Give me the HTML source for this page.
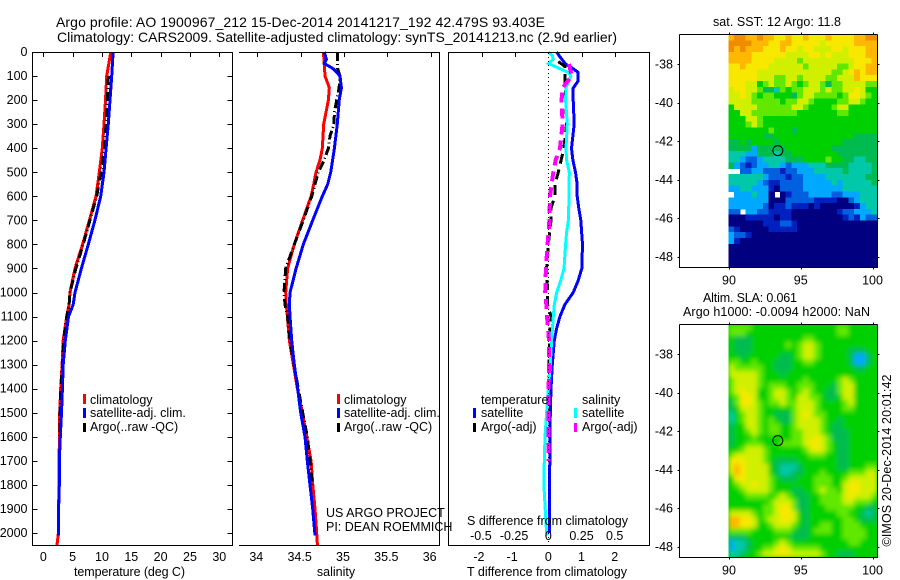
<!DOCTYPE html>
<html lang="en">
<head>
<meta charset="utf-8">
<title>Argo profile 1900967_212</title>
<style>
html,body{margin:0;padding:0;background:#fff;width:900px;height:580px;overflow:hidden}
svg{display:block}
text{font-family:"Liberation Sans",Arial,sans-serif;font-size:12.5px;fill:#000}
.t{font-size:14px}
</style>
</head>
<body>
<svg id="fig" xmlns="http://www.w3.org/2000/svg" width="900" height="580" viewBox="0 0 900 580">
  <defs>
    <filter id="smooth" filterUnits="userSpaceOnUse" x="728" y="324" width="150" height="234">
      <feGaussianBlur stdDeviation="2.4" edgeMode="duplicate"/>
    </filter>
    <clipPath id="slaClip"><rect x="728.5" y="324.5" width="149" height="233"/></clipPath>
  </defs>
  <rect width="900" height="580" fill="#fff"/>
  <g id="heat" shape-rendering="crispEdges"></g>
  <g clip-path="url(#slaClip)">
    <rect x="728.5" y="324.5" width="149" height="233" fill="#00d000"/>
    <g id="heatSla" shape-rendering="crispEdges" filter="url(#smooth)"></g>
  </g>
  <g id="marks" shape-rendering="crispEdges"></g>
  <g id="axes" shape-rendering="crispEdges"></g>
  <g id="labels"></g>

  <text class="t" x="56" y="27" textLength="489">Argo profile: AO 1900967_212 15-Dec-2014 20141217_192 42.479S 93.403E</text>
  <text class="t" x="57" y="42" textLength="560">Climatology: CARS2009. Satellite-adjusted climatology: synTS_20141213.nc (2.9d earlier)</text>

  <text x="74" y="576" textLength="111">temperature (deg C)</text>
  <text x="336" y="576" text-anchor="middle">salinity</text>
  <text x="467" y="576" textLength="160">T difference from climatology</text>
  <text x="467" y="525" textLength="161">S difference from climatology</text>

  <g shape-rendering="crispEdges">
    <rect x="83" y="394" width="3" height="10" fill="#f00"/>
    <rect x="83" y="408" width="3" height="10" fill="#00f"/>
    <rect x="83" y="423" width="3" height="9" fill="#000"/>
  </g>
  <text x="90" y="404">climatology</text>
  <text x="90" y="417">satellite-adj. clim.</text>
  <text x="90" y="431">Argo(..raw -QC)</text>

  <g shape-rendering="crispEdges">
    <rect x="337" y="394" width="3" height="10" fill="#f00"/>
    <rect x="337" y="408" width="3" height="10" fill="#00f"/>
    <rect x="337" y="423" width="3" height="9" fill="#000"/>
  </g>
  <text x="344" y="404">climatology</text>
  <text x="344" y="417">satellite-adj. clim.</text>
  <text x="344" y="431">Argo(..raw -QC)</text>

  <text x="326" y="517">US ARGO PROJECT</text>
  <text x="326" y="531">PI: DEAN ROEMMICH</text>

  <g shape-rendering="crispEdges">
    <rect x="473" y="408" width="3" height="10" fill="#00f"/>
    <rect x="473" y="423" width="3" height="9" fill="#000"/>
    <rect x="574" y="408" width="3" height="10" fill="#0ff"/>
    <rect x="574" y="423" width="3" height="9" fill="#f0f"/>
  </g>
  <text x="481" y="404">temperature</text>
  <text x="481" y="417">satellite</text>
  <text x="481" y="431">Argo(-adj)</text>
  <text x="582" y="404">salinity</text>
  <text x="582" y="417">satellite</text>
  <text x="582" y="431">Argo(-adj)</text>

  <text x="713" y="26" textLength="128">sat. SST: 12 Argo: 11.8</text>
  <text x="703" y="302" textLength="94">Altim. SLA: 0.061</text>
  <text x="683" y="316" textLength="187">Argo h1000: -0.0094 h2000: NaN</text>
  <text transform="translate(891,546.5) rotate(-90)" textLength="172">©IMOS 20-Dec-2014 20:01:42</text>
</svg>
<script>
/* ---------- axis tick data ---------- */
var depthTicks = [0,100,200,300,400,500,600,700,800,900,1000,1100,1200,1300,1400,1500,1600,1700,1800,1900,2000];
var tempTicks = [0,5,10,15,20,25,30];
var salTicks = [34,34.5,35,35.5,36];
var salTickLabels = ['34','34.5','35','35.5','36'];
var tDiffTicks = [-2,-1,0,1,2];
var sDiffTicks = [-0.5,-0.25,0,0.25,0.5];
var lonTicks = [90,95,100];
var latTicks = [-38,-40,-42,-44,-46,-48];

/* ---------- argo position ---------- */
var argoLon = 93.403;
var argoLat = -42.479;

/* ---------- temperature panel ---------- */
var tempClimDepth = [0,100,200,300,400,500,600,700,800,900,1000,1050,1100,1200,1300,1400,1500,1600,1700,1800,1900,2000,2050];
var tempClimValue = [11.5,10.8,10.6,10.35,10.06,9.55,8.98,7.85,6.7,5.4,4.55,4.4,3.98,3.4,3.2,2.96,2.8,2.75,2.7,2.68,2.6,2.58,2.33];
var tempSatDepth = [0,100,200,300,400,500,600,700,800,900,1000,1050,1100,1200,1300,1400,1500,1600,1700,1800,1900,2010];
var tempSatValue = [11.9,11.65,11.37,11.08,10.7,10.35,9.78,8.8,7.67,6.5,5.4,5.1,4.3,3.75,3.4,3.25,3.1,2.9,2.73,2.73,2.6,2.6];
var tempArgoDepth = [100,200,300,400,500,600,700,800,900,1000,1050,1100,1200,1300,1400,1500,1600];
var tempArgoValue = [11.1,10.9,10.7,10.4,9.85,9.1,7.95,6.8,5.55,4.55,4.4,3.98,3.45,3.25,3.0,2.85,2.8];

/* ---------- salinity panel ---------- */
var salClimDepth = [0,50,100,130,150,200,300,400,450,500,550,600,700,800,900,1000,1050,1100,1200,1300,1400,1500,1600,1700,1800,1900,2000,2050];
var salClimValue = [34.762,34.773,34.781,34.812,34.831,34.82,34.766,34.75,34.723,34.677,34.65,34.62,34.523,34.427,34.35,34.327,34.335,34.347,34.37,34.416,34.462,34.52,34.57,34.62,34.64,34.666,34.685,34.693];
var salSatDepth = [0,30,48,70,100,150,200,300,400,500,550,600,700,800,900,1000,1050,1100,1200,1300,1400,1500,1600,1700,1800,1900,2010];
var salSatValue = [34.773,34.797,34.773,34.878,34.954,34.97,34.945,34.923,34.889,34.847,34.812,34.75,34.639,34.531,34.447,34.377,34.37,34.377,34.397,34.427,34.466,34.5,34.55,34.577,34.608,34.639,34.666];
var salArgoDepth = [0,50,70,100,150,200,250,300,350,400,450,500,550,600,700,800,900,1000,1050,1100,1200,1300,1400,1500,1600,1700,1800];
var salArgoValue = [34.927,34.927,34.927,34.954,34.943,34.916,34.889,34.885,34.839,34.82,34.77,34.704,34.666,34.627,34.531,34.427,34.327,34.308,34.32,34.35,34.377,34.423,34.473,34.524,34.577,34.608,34.635];

/* ---------- difference panel ---------- */
var tDiffSatDepth = [0,20,50,70,85,120,150,200,300,400,450,500,550,600,650,700,800,900,950,1000,1050,1100,1150,1200,1300,1400,1500,1600,1800,2000];
var tDiffSatValue = [0.25,0.35,0.52,0.75,0.9,0.9,0.75,0.75,0.78,0.7,0.74,0.82,0.87,0.87,0.92,0.98,1.03,1.01,0.9,0.75,0.5,0.35,0.25,0.18,0.12,0.08,0.06,0.05,0.04,0.03];
var sDiffSatDepth = [0,15,30,48,60,85,100,130,150,200,300,400,450,480,500,600,700,750,800,900,950,1000,1050,1100,1200,1300,1400,1500,1600,1700,1800,1900,2000,2010];
var sDiffSatValue = [0,0.03,0.038,0,0.05,0.15,0.17,0.146,0.133,0.13,0.143,0.133,0.138,0.15,0.158,0.156,0.151,0.138,0.13,0.118,0.093,0.063,0.045,0.038,0.025,0.015,0,-0.013,-0.025,-0.03,-0.033,-0.023,-0.013,-0.005];
var tDiffArgoDepth = [40,60,100,300,400,500,550,600,650,700,800,900,1000,1050,1100,1150,1300,1500];
var tDiffArgoValue = [0.3,0.5,0.5,0.55,0.47,0.3,0.2,0.2,0.08,0.08,0,-0.05,-0.02,-0.02,0.08,0.05,0.02,0.01];
var sDiffArgoDepth = [50,100,150,200,300,400,450,500,550,600,700,800,900,1000,1050,1100,1200,1300,1500,1600,1700];
var sDiffArgoValue = [0.156,0.176,0.106,0.1,0.108,0.088,0.055,0.038,0.025,0.013,0.008,-0.005,-0.018,-0.023,-0.015,-0.01,0.005,0.005,0,0,0];

/* ---------- satellite SST levels (colour-scale index, -1 = missing) ---------- */
var sstRows = [
[10,11,11,10,10,11,10,10,9,9,10,9,9,10,9,9,9,10,9,9,9,9,10,10,11,11],
[11,11,11,11,10,10,10,9,9,10,10,9,9,9,9,9,8,9,9,9,9,9,10,10,10,10],
[11,10,11,10,10,10,9,9,9,10,9,9,8,9,9,8,8,8,9,9,8,9,9,9,10,10],
[10,10,10,10,9,9,9,9,9,9,8,8,8,8,9,9,8,9,8,8,8,9,9,9,10,10],
[10,10,10,10,9,9,9,9,8,8,8,8,7,8,8,8,8,8,8,8,8,8,9,9,9,10],
[9,9,10,9,9,9,9,8,8,8,8,8,8,7,8,8,8,8,8,7,7,8,9,9,10,10],
[9,9,9,9,9,8,8,8,8,8,8,8,8,8,8,8,8,8,7,7,8,9,10,9,10,10],
[9,9,9,9,9,8,8,8,7,7,8,8,7,8,8,8,8,7,7,8,8,8,10,9,9,9],
[9,9,9,8,8,6,7,8,7,7,8,7,6,7,8,8,7,5,7,7,8,8,8,8,7,7],
[8,9,9,8,8,7,5,5,4,7,6,7,7,8,8,8,7,8,7,7,8,8,9,8,6,6],
[8,8,9,8,7,6,7,7,6,6,6,5,7,8,8,7,7,7,7,6,7,9,9,8,7,6],
[8,8,8,8,7,7,7,7,7,6,7,7,8,8,7,6,6,6,6,7,7,8,8,7,6,6],
[6,8,8,8,8,7,7,7,7,7,7,8,8,7,6,6,6,6,7,8,8,6,6,6,6,6],
[6,6,8,8,7,7,7,7,7,7,7,7,6,6,6,6,6,6,6,7,7,6,6,6,6,6],
[6,6,6,8,8,7,6,6,6,6,6,6,6,6,6,6,6,6,6,6,6,6,6,6,6,6],
[6,6,6,7,8,7,6,6,6,6,6,6,6,6,6,6,6,6,6,6,6,6,6,6,6,6],
[6,6,6,6,6,6,6,7,6,6,6,5,6,6,6,6,6,6,6,6,6,6,6,6,6,6],
[6,6,6,6,6,6,5,5,6,6,6,6,6,6,6,6,6,6,6,6,6,6,5,5,5,5],
[5,5,6,5,6,6,6,6,5,6,6,6,6,6,6,6,6,6,6,6,5,5,5,5,5,5],
[5,5,5,5,3,5,5,5,5,5,6,6,6,6,6,6,6,6,5,5,5,5,5,5,5,5],
[4,4,4,3,3,5,5,5,4,5,5,6,6,6,6,6,6,6,6,5,5,5,5,5,5,5],
[4,4,3,2,2,3,4,4,4,4,5,5,5,6,6,6,6,7,6,6,5,5,4,4,5,5],
[5,3,2,1,2,3,3,4,4,3,2,3,3,3,4,4,4,5,5,5,5,4,4,4,4,5],
[-1,-1,2,2,3,3,2,2,2,1,2,2,3,3,3,4,4,4,4,4,5,4,4,4,4,5],
[4,4,4,4,4,4,3,2,2,2,1,2,2,3,3,3,3,4,4,4,4,4,4,4,5,5],
[4,4,4,4,4,3,2,1,1,2,2,2,2,3,3,3,3,3,4,3,4,4,4,4,4,5],
[3,3,4,4,3,3,3,1,0,2,2,2,2,3,3,3,3,3,3,3,4,4,4,4,4,4],
[-1,3,3,3,4,3,3,0,-1,0,1,2,2,2,3,3,3,3,2,2,3,3,3,4,4,4],
[3,3,3,3,3,3,3,0,0,0,2,2,2,2,2,1,1,1,1,0,0,2,3,4,4,4],
[3,3,3,3,3,3,2,0,1,1,2,1,1,1,0,1,0,0,0,0,0,0,1,3,4,4],
[2,2,-1,3,3,2,2,1,1,1,1,0,0,0,0,0,0,0,0,1,2,2,3,3,3,4],
[0,0,0,1,1,1,1,1,0,1,1,0,0,0,0,0,0,0,0,0,1,2,1,3,2,2],
[0,0,0,0,0,0,1,1,1,2,2,1,0,0,0,0,0,0,0,0,0,0,0,0,0,0],
[2,1,0,0,0,0,0,1,1,1,1,1,0,0,0,0,0,0,0,0,0,0,0,0,0,0],
[3,2,2,1,0,0,0,0,0,0,0,0,0,0,0,0,0,0,0,0,0,0,0,0,0,0],
[3,1,0,0,0,0,0,0,0,0,0,0,0,0,0,0,0,0,0,0,0,0,0,0,0,0],
[0,0,0,0,0,0,0,0,0,0,0,0,0,0,0,0,0,0,0,0,0,0,0,0,0,0],
[0,0,0,0,0,0,0,0,0,0,0,0,0,0,0,0,0,0,0,0,0,0,0,0,0,0],
[0,0,0,0,0,0,0,0,0,0,0,0,0,0,0,0,0,0,0,0,0,0,0,0,0,0],
[0,0,0,0,0,0,0,0,0,0,0,0,0,0,0,0,0,0,0,0,0,0,0,0,0,0]
];

/* ---------- altimeter SLA levels (colour-scale index) ---------- */
var slaRows = [
[7,7,7,7,6,6,6,6,6,6,6,6,6,6,6,6,6,6,6,7,7,6,6,6,6,6],
[7,7,7,6,6,6,6,6,6,6,6,6,6,6,6,6,6,6,6,7,7,6,6,6,6,6],
[6,5,5,5,6,6,6,6,6,6,6,6,6,7,7,6,6,6,6,6,6,6,6,6,6,6],
[6,5,5,5,6,6,6,6,6,6,7,6,7,8,8,7,6,6,6,6,6,6,6,6,6,6],
[6,5,5,5,6,6,6,6,6,6,6,6,7,8,8,7,6,6,6,6,6,5,5,5,6,6],
[6,6,5,6,6,6,6,6,6,5,5,6,7,8,8,7,6,6,6,6,6,5,3,3,5,6],
[7,7,6,6,7,6,6,6,5,5,5,6,6,7,7,6,6,6,6,6,6,5,3,3,5,6],
[8,7,7,7,7,7,6,6,5,5,5,6,6,6,6,6,6,6,6,6,6,6,5,5,6,6],
[8,8,8,8,8,7,6,6,6,5,6,6,6,6,6,6,6,6,6,6,6,6,6,6,6,6],
[7,8,8,8,8,7,6,6,6,6,6,6,6,7,6,6,6,6,6,7,8,7,6,6,6,6],
[7,8,8,8,8,7,6,7,7,7,6,6,7,7,7,6,6,6,5,7,8,8,6,6,6,6],
[7,8,9,8,8,6,6,7,8,8,7,6,7,8,7,6,6,5,5,7,8,8,6,6,6,6],
[6,7,9,9,8,6,6,7,8,8,7,6,8,8,7,7,6,5,5,6,8,8,6,6,6,6],
[5,7,9,9,8,7,6,7,7,8,7,7,8,8,8,7,6,6,6,6,7,8,6,6,6,6],
[5,6,8,8,8,7,6,6,6,6,6,7,8,8,8,7,6,6,6,6,7,7,6,6,6,6],
[4,6,7,8,8,7,6,6,5,5,5,7,8,9,8,7,7,6,6,6,6,6,6,6,6,6],
[4,6,7,8,8,7,6,7,6,5,5,7,8,8,8,8,7,6,6,5,6,6,6,6,6,6],
[5,6,6,8,8,7,6,7,7,6,6,7,8,8,8,8,7,6,5,5,6,6,6,6,6,6],
[5,6,6,7,8,7,6,7,7,6,6,7,7,8,8,8,7,6,5,5,5,6,6,6,6,6],
[5,6,6,6,7,6,6,6,6,6,6,7,7,8,8,9,8,7,5,5,5,6,6,6,6,6],
[5,6,6,7,7,7,6,6,6,7,7,7,7,8,9,9,8,7,6,5,5,6,6,6,6,6],
[6,6,7,8,8,8,7,6,6,6,6,6,6,7,8,9,8,7,6,5,5,6,6,6,6,6],
[7,8,8,8,8,8,7,6,6,6,6,6,6,6,7,7,7,6,6,5,5,6,6,6,6,6],
[9,9,9,8,8,8,7,6,5,5,5,5,6,6,6,6,6,6,6,5,5,6,6,6,6,6],
[9,10,9,8,8,8,8,6,5,4,4,4,5,6,6,6,6,6,6,5,5,6,6,6,7,7],
[8,10,9,8,8,8,8,6,5,4,4,5,5,6,6,6,7,6,6,6,6,7,7,7,8,8],
[6,9,9,8,8,8,8,7,6,5,5,5,6,6,6,7,7,7,6,6,7,8,8,8,8,8],
[6,7,8,8,9,8,8,7,6,6,6,6,6,6,6,7,7,7,6,6,8,9,9,8,8,8],
[6,6,7,8,8,8,8,7,6,6,6,5,5,6,6,7,8,7,7,6,8,9,9,8,8,8],
[6,6,6,7,7,7,7,6,7,8,7,6,5,5,6,6,7,7,7,7,8,9,8,8,8,7],
[6,6,6,6,6,6,6,7,8,8,8,7,5,5,6,6,7,7,7,7,8,8,7,7,7,6],
[6,6,6,6,6,6,7,7,8,9,9,7,5,5,6,6,6,7,7,7,7,7,6,6,5,5],
[8,8,8,8,7,6,7,7,8,9,9,8,6,5,6,6,6,6,6,7,7,6,6,5,4,5],
[10,10,9,9,8,6,7,8,8,9,9,8,6,5,6,6,6,6,6,6,7,7,6,5,5,5],
[10,10,9,9,8,6,6,7,8,8,8,7,6,5,6,6,7,7,6,6,7,7,7,6,6,6],
[7,7,7,7,6,6,6,6,7,7,7,6,5,5,6,7,7,7,6,6,7,7,7,7,6,6],
[5,5,5,6,6,6,6,6,6,6,6,5,5,5,6,6,6,6,6,6,7,7,7,7,6,6],
[3,4,4,5,6,6,6,6,7,8,7,6,6,6,6,6,6,6,6,6,6,7,7,6,6,6],
[3,4,4,5,6,6,7,7,8,9,8,7,7,7,7,7,6,6,6,6,6,6,6,6,6,6],
[4,4,5,6,6,7,8,8,9,9,9,8,8,8,8,8,7,6,6,5,5,5,6,6,6,6]
];

/* ---------- scales ---------- */
var NS = 'http://www.w3.org/2000/svg';
var colourScale = ['#000080','#0020c0','#0060e0','#00a8ff','#00c8a8','#00bc50','#00d000','#60e800','#d0f000','#f8e800','#ffb800','#f08c00'];
function yDepth(d){ return 52 + d * 0.2405; }
function xTemp(v){ return 43.3 + v * 5.867; }
function xSal(v){ return 257.3 + (v - 34) * 86.7; }
function xTDiff(v){ return 548.3 + v * 33.2; }
function xSDiff(v){ return 548.3 + v * 132.8; }
function xLon(v){ return 729 + (v - 90) * 14.35; }
function yLat1(v){ return 64.3 + (-38 - v) * 19.27; }
function yLat2(v){ return 354.3 + (-38 - v) * 19.27; }

var heat = document.getElementById('heat');
var heatSla = document.getElementById('heatSla');
var marks = document.getElementById('marks');
var axes = document.getElementById('axes');
var labels = document.getElementById('labels');

/* ---------- heatmaps ---------- */
function drawHeat(parent, rows, top, bottom, name){
  var left = 728.5, right = 877;
  var cw = (right - left) / rows[0].length;
  var ch = (bottom - top) / rows.length;
  rows.forEach(function(row, r){
    row.forEach(function(v, c){
      if (v < 0) return;
      var el = document.createElementNS(NS, 'rect');
      
      
      el.setAttribute('x', (left + c * cw).toFixed(2));
      el.setAttribute('y', (top + r * ch).toFixed(2));
      el.setAttribute('width', (cw + 0.6).toFixed(2));
      el.setAttribute('height', (ch + 0.6).toFixed(2));
      el.setAttribute('fill', colourScale[v]);
      parent.appendChild(el);
    });
  });
}
drawHeat(heat, sstRows, 34.5, 267, 'sst-cell');
drawHeat(heatSla, slaRows, 324.5, 557, 'sla-cell');

/* ---------- profile lines ---------- */
function drawLine(xs, depths, xf, colour, dash, width, name){
  var d = '';
  xs.forEach(function(v, i){
    d += (i ? 'L' : 'M') + xf(v).toFixed(1) + ' ' + yDepth(depths[i]).toFixed(1);
  });
  var el = document.createElementNS(NS, 'path');
  
  
  el.setAttribute('d', d);
  el.setAttribute('fill', 'none');
  el.setAttribute('stroke', colour);
  el.setAttribute('stroke-width', width);
  if (dash) el.setAttribute('stroke-dasharray', dash);
  marks.appendChild(el);
}
drawLine(tempClimValue, tempClimDepth, xTemp, '#f00', '', '3', 'temperature-climatology-line');
drawLine(tempArgoValue, tempArgoDepth, xTemp, '#000', '9 3 1 3', '3', 'temperature-argo-line');
drawLine(tempSatValue, tempSatDepth, xTemp, '#00f', '', '3', 'temperature-satellite-line');
drawLine(salClimValue, salClimDepth, xSal, '#f00', '', '3', 'salinity-climatology-line');
drawLine(salArgoValue, salArgoDepth, xSal, '#000', '9 3 1 3', '3', 'salinity-argo-line');
drawLine(salSatValue, salSatDepth, xSal, '#00f', '', '3', 'salinity-satellite-line');
drawLine(tDiffSatValue, tDiffSatDepth, xTDiff, '#00f', '', '3', 't-difference-satellite-line');
drawLine(tDiffArgoValue, tDiffArgoDepth, xTDiff, '#000', '10 6', '3', 't-difference-argo-line');
drawLine(sDiffSatValue, sDiffSatDepth, xSDiff, '#0ff', '', '3', 's-difference-satellite-line');
drawLine(sDiffArgoValue, sDiffArgoDepth, xSDiff, '#f0f', '10 6', '4', 's-difference-argo-line');

/* ---------- axes ---------- */
function seg(x1, y1, x2, y2, name, dash){
  var el = document.createElementNS(NS, 'line');
  
  
  el.setAttribute('x1', x1);
  el.setAttribute('y1', y1);
  el.setAttribute('x2', x2);
  el.setAttribute('y2', y2);
  el.setAttribute('stroke', '#000');
  el.setAttribute('stroke-width', '1');
  if (dash) el.setAttribute('stroke-dasharray', dash);
  axes.appendChild(el);
}
function label(x, y, str, anchor, name){
  var el = document.createElementNS(NS, 'text');
  
  
  el.setAttribute('x', x);
  el.setAttribute('y', y);
  el.setAttribute('text-anchor', anchor);
  el.textContent = str;
  labels.appendChild(el);
}
function px(v){ return Math.round(v) + 0.5; }

/* temperature panel */
seg(32.5, 52.5, 232.5, 52.5, 'temperature-top-spine');
seg(32.5, 545.5, 232.5, 545.5, 'temperature-bottom-spine');
seg(32.5, 52, 32.5, 546, 'temperature-left-spine');
seg(232.5, 52, 232.5, 546, 'temperature-right-spine');
depthTicks.forEach(function(d){
  var y = px(yDepth(d));
  seg(32.5, y, 37.5, y, 'depth-tick');
  seg(227.5, y, 232.5, y, 'depth-tick');
  label(27.5, yDepth(d) + 4, String(d), 'end', 'depth-tick-label');
});
tempTicks.forEach(function(v){
  var x = px(xTemp(v));
  seg(x, 52, x, 57, 'temperature-tick');
  label(xTemp(v), 561, String(v), 'middle', 'temperature-tick-label');
});

/* salinity panel */
seg(239, 52.5, 439.5, 52.5, 'salinity-top-spine');
seg(239, 545.5, 439.5, 545.5, 'salinity-bottom-spine');
seg(439.5, 52, 439.5, 546, 'salinity-right-spine');
salTicks.forEach(function(v, i){
  var x = px(xSal(v));
  seg(x, 52, x, 57, 'salinity-tick');
  label(xSal(v) - 1, 561, salTickLabels[i], 'middle', 'salinity-tick-label');
});

/* difference panel */
seg(448.5, 52.5, 649.5, 52.5, 'difference-top-spine');
seg(448.5, 545.5, 649.5, 545.5, 'difference-bottom-spine');
seg(448.5, 52, 448.5, 546, 'difference-left-spine');
seg(649.5, 52, 649.5, 546, 'difference-right-spine');
seg(548.5, 53, 548.5, 545, 'difference-zero-line', '1 3');
tDiffTicks.forEach(function(v){
  var x = px(xTDiff(v));
  if (v !== 0) seg(x, 52, x, 57, 'difference-tick');
  label(xTDiff(v) - (v < 0 ? 3 : 0), 561, String(v), 'middle', 't-difference-tick-label');
});
sDiffTicks.forEach(function(v){
  label(xSDiff(v) - (v < 0 ? 1 : 0), 540, String(v), 'middle', 's-difference-tick-label');
});

/* maps */
function mapAxes(top, bottom, yLat, labelY, prefix){
  seg(679.5, top, 877.5, top, prefix + '-top-spine');
  seg(679.5, bottom, 877.5, bottom, prefix + '-bottom-spine');
  seg(679.5, top, 679.5, bottom + 0.5, prefix + '-left-spine');
  seg(877.5, top, 877.5, bottom + 0.5, prefix + '-right-spine');
  lonTicks.forEach(function(v){
    var x = px(xLon(v));
    seg(x, top - 2, x, top, prefix + '-lon-tick');
    seg(x, bottom, x, bottom + 2, prefix + '-lon-tick');
    label(xLon(v), labelY, String(v), 'middle', prefix + '-lon-tick-label');
  });
  latTicks.forEach(function(v){
    var y = px(yLat(v));
    seg(677.5, y, 679.5, y, prefix + '-lat-tick');
    seg(877.5, y, 879.5, y, prefix + '-lat-tick');
    label(673, yLat(v) + 4, String(v), 'end', prefix + '-lat-tick-label');
  });
}
mapAxes(34.5, 267.5, yLat1, 284.5, 'sst-map');
mapAxes(324.5, 557.5, yLat2, 574.5, 'sla-map');

function marker(y, name){
  var el = document.createElementNS(NS, 'circle');
  
  
  el.setAttribute('cx', xLon(argoLon));
  el.setAttribute('cy', y);
  el.setAttribute('r', '5');
  el.setAttribute('fill', 'none');
  el.setAttribute('stroke', '#000');
  el.setAttribute('stroke-width', '1');
  labels.appendChild(el);
}
marker(yLat1(argoLat), 'argo-position-marker-sst');
marker(yLat2(argoLat), 'argo-position-marker-sla');
</script>
</body>
</html>
